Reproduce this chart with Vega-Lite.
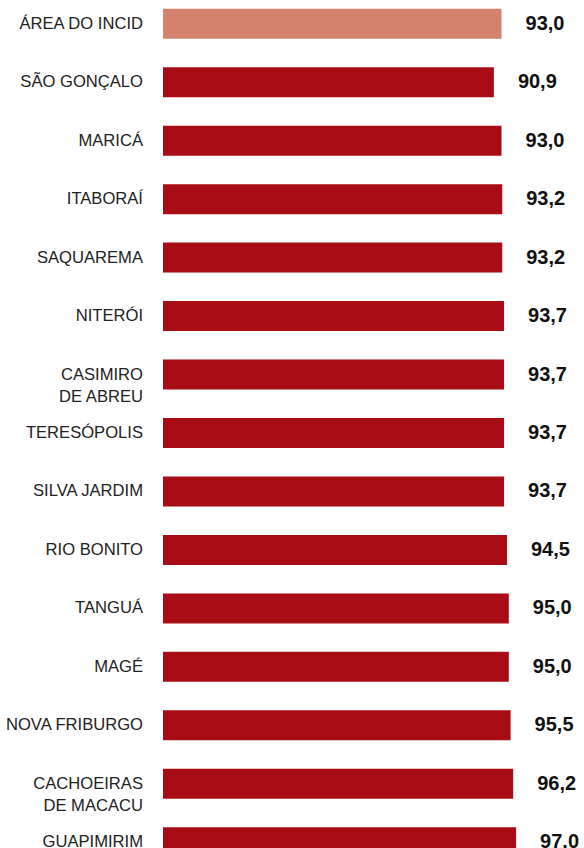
{
  "$schema": "https://vega.github.io/schema/vega-lite/v6.json",
  "autosize": {"type": "none"},
  "padding": {"left": 163, "top": 0, "right": 57, "bottom": 0},
  "width": 364,
  "height": 866,
  "background": "white",
  "config": {
    "view": {"stroke": null},
    "font": "Liberation Sans",
    "locale": {"number": {"decimal": ",", "thousands": ".", "grouping": [3], "currency": ["R$", ""]}}
  },
  "data": {
    "values": [
      {"name": "ÁREA DO INCID", "line1": "ÁREA DO INCID", "line2": "", "value": 93.0, "group": "incid"},
      {"name": "SÃO GONÇALO", "line1": "SÃO GONÇALO", "line2": "", "value": 90.9, "group": "mun"},
      {"name": "MARICÁ", "line1": "MARICÁ", "line2": "", "value": 93.0, "group": "mun"},
      {"name": "ITABORAÍ", "line1": "ITABORAÍ", "line2": "", "value": 93.2, "group": "mun"},
      {"name": "SAQUAREMA", "line1": "SAQUAREMA", "line2": "", "value": 93.2, "group": "mun"},
      {"name": "NITERÓI", "line1": "NITERÓI", "line2": "", "value": 93.7, "group": "mun"},
      {"name": "CASIMIRO DE ABREU", "line1": "CASIMIRO", "line2": "DE ABREU", "value": 93.7, "group": "mun"},
      {"name": "TERESÓPOLIS", "line1": "TERESÓPOLIS", "line2": "", "value": 93.7, "group": "mun"},
      {"name": "SILVA JARDIM", "line1": "SILVA JARDIM", "line2": "", "value": 93.7, "group": "mun"},
      {"name": "RIO BONITO", "line1": "RIO BONITO", "line2": "", "value": 94.5, "group": "mun"},
      {"name": "TANGUÁ", "line1": "TANGUÁ", "line2": "", "value": 95.0, "group": "mun"},
      {"name": "MAGÉ", "line1": "MAGÉ", "line2": "", "value": 95.0, "group": "mun"},
      {"name": "NOVA FRIBURGO", "line1": "NOVA FRIBURGO", "line2": "", "value": 95.5, "group": "mun"},
      {"name": "CACHOEIRAS DE MACACU", "line1": "CACHOEIRAS", "line2": "DE MACACU", "value": 96.2, "group": "mun"},
      {"name": "GUAPIMIRIM", "line1": "GUAPIMIRIM", "line2": "", "value": 97.0, "group": "mun"}
    ]
  },
  "encoding": {
    "y": {
      "field": "name",
      "type": "nominal",
      "sort": null,
      "axis": null,
      "scale": {"paddingInner": 0.487, "paddingOuter": 0.15}
    }
  },
  "layer": [
    {
      "mark": {"type": "bar"},
      "encoding": {
        "x": {"field": "value", "type": "quantitative", "axis": null, "scale": {"domain": [0, 100], "nice": false}},
        "color": {
          "field": "group",
          "type": "nominal",
          "legend": null,
          "scale": {"domain": ["incid", "mun"], "range": ["#D3836B", "#A80D15"]}
        }
      }
    },
    {
      "mark": {"type": "text", "align": "left", "baseline": "middle", "dx": 24, "fontSize": 20, "fontWeight": "bold", "color": "#111111"},
      "encoding": {
        "x": {"field": "value", "type": "quantitative"},
        "text": {"field": "value", "type": "quantitative", "format": ".1f"}
      }
    },
    {
      "mark": {"type": "text", "align": "right", "baseline": "middle", "dx": -20, "fontSize": 16.6, "color": "#222222"},
      "encoding": {
        "x": {"datum": 0, "type": "quantitative"},
        "text": {"field": "line1"}
      }
    },
    {
      "mark": {"type": "text", "align": "right", "baseline": "middle", "dx": -20, "dy": 22, "fontSize": 16.6, "color": "#222222"},
      "encoding": {
        "x": {"datum": 0, "type": "quantitative"},
        "text": {"field": "line2"}
      }
    }
  ]
}
